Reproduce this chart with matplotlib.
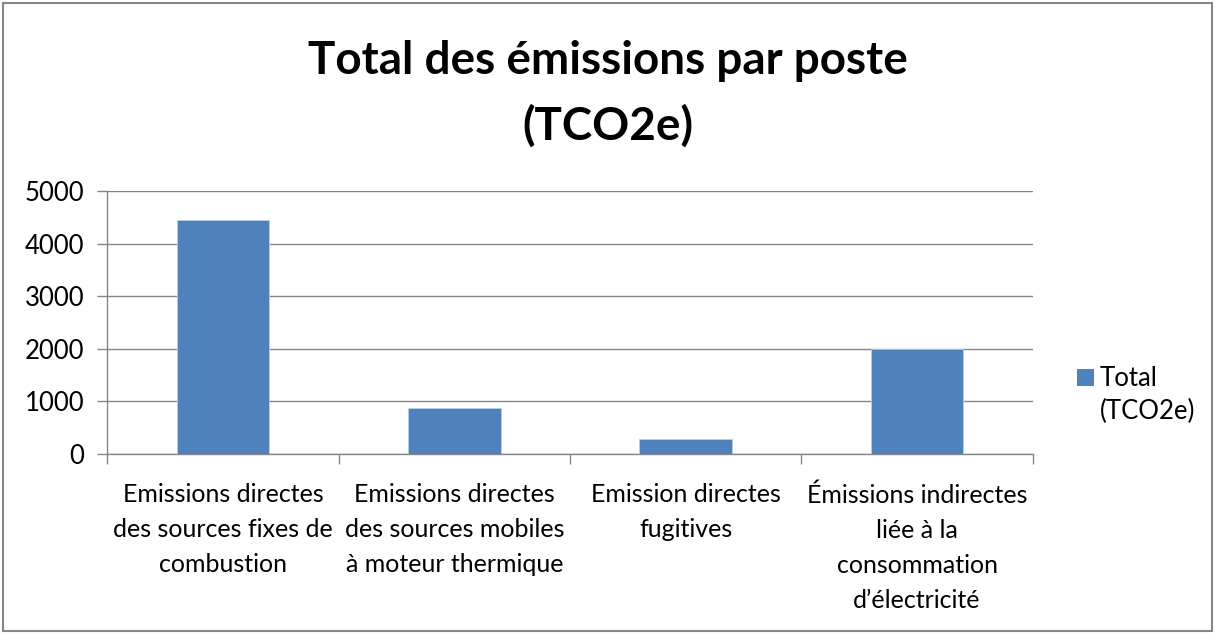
import matplotlib
matplotlib.use("Agg")
import matplotlib.pyplot as plt
from matplotlib.patches import Rectangle

categories = [
    "Emissions directes\ndes sources fixes de\ncombustion",
    "Emissions directes\ndes sources mobiles\nà moteur thermique",
    "Emission directes\nfugitives",
    "Émissions indirectes\nliée à la\nconsommation\nd\u2019électricité",
]
values = [4450, 880, 285, 1990]
yticks = [0, 1000, 2000, 3000, 4000, 5000]
series_name = "Total\n(TCO2e)"
title = "Total des émissions par poste\n(TCO2e)"

W, H = 1215, 634
plt.rcParams['font.family'] = ['Lato', 'DejaVu Sans']
fig = plt.figure(figsize=(W / 100, H / 100), dpi=100)

# outer frame
fig.patches.append(Rectangle((3 / W, 3 / H), (W - 6) / W, (H - 6) / H,
                             transform=fig.transFigure, fill=False,
                             edgecolor='#868686', linewidth=1.5))

left, right, top, bottom = 107.3, 1032.7, 191, 454
ax = fig.add_axes([left / W, 1 - bottom / H, (right - left) / W, (bottom - top) / H])

bar_color = '#4F81BD'
x = list(range(len(categories)))
ax.bar(x, values, width=0.4, color=bar_color, edgecolor='#B9CDE5', linewidth=0.6,
       zorder=3, label=series_name)

ax.set_xlim(-0.5, len(categories) - 0.5)
ax.set_ylim(0, 5000)
ax.set_yticks(yticks)
ax.set_yticklabels([str(v) for v in yticks])
ax.yaxis.grid(True, color='#868686', linewidth=1.0, zorder=0)
ax.set_axisbelow(True)

for s in ['top', 'right']:
    ax.spines[s].set_visible(False)
for s in ['left', 'bottom']:
    ax.spines[s].set_color('#868686')
    ax.spines[s].set_linewidth(1.0)

ax.set_xticks(x)
ax.set_xticklabels(categories, fontsize=18, linespacing=1.63, va='top')
ax.tick_params(axis='x', which='major', length=0, pad=21)
ax.set_xticks([i - 0.5 for i in range(len(categories) + 1)], minor=True)
ax.tick_params(axis='x', which='minor', length=7.5, color='#868686', width=1.0)
ax.tick_params(axis='y', length=7.5, color='#868686', width=1.0, labelsize=18.5, pad=9)

fig.text((W / 2) / W, 1 - 94 / H, title, ha='center', va='center',
         fontsize=33, fontweight='bold', linespacing=1.62)

# legend
fig.patches.append(Rectangle((1077 / W, 1 - 386 / H), 17 / W, 17 / H,
                             transform=fig.transFigure, facecolor=bar_color,
                             edgecolor='none'))
for i, line in enumerate(series_name.split("\n")):
    fig.text(1100 / W, 1 - (386 + 33 * i) / H, line, ha='left', va='baseline',
             fontsize=18.5)

fig.savefig("out.png", dpi=100)
